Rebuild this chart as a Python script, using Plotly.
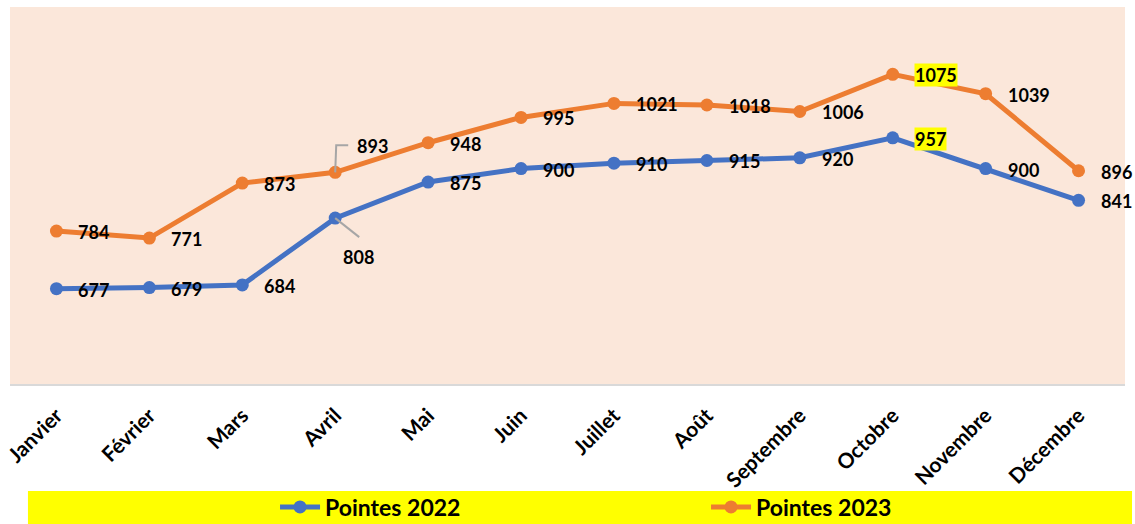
import plotly.graph_objects as go

months = ["Janvier", "Février", "Mars", "Avril", "Mai", "Juin", "Juillet",
          "Août", "Septembre", "Octobre", "Novembre", "Décembre"]
pointes_2022 = [677, 679, 684, 808, 875, 900, 910, 915, 920, 957, 900, 841]
pointes_2023 = [784, 771, 873, 893, 948, 995, 1021, 1018, 1006, 1075, 1039, 896]
highlight_month = "Octobre"
leader_month = "Avril"

BLUE = "#4472C4"
ORANGE = "#ED7D31"
PEACH = "#FBE7DA"
FONT = "Lato"

fig = go.Figure()
for name, vals, col in [("Pointes 2022", pointes_2022, BLUE),
                        ("Pointes 2023", pointes_2023, ORANGE)]:
    fig.add_trace(go.Scatter(
        x=months, y=vals, name=name, mode="lines+markers",
        line=dict(color=col, width=5),
        marker=dict(color=col, size=13),
    ))

annotations = []
shapes = []
for vals in (pointes_2022, pointes_2023):
    for i, (m, v) in enumerate(zip(months, vals)):
        a = dict(x=m, y=v, xref="x", yref="y", text=str(v), showarrow=False,
                 font=dict(family=FONT, size=18, color="black", weight="bold"),
                 xanchor="left", yanchor="middle", xshift=21, yshift=-1,
                 borderpad=0)
        if m == highlight_month:
            a["bgcolor"] = "#FFFF00"
        if m == leader_month and vals is pointes_2023:
            a["yshift"] = 26
            shapes.append(dict(type="path", xref="x", yref="y",
                               xsizemode="pixel", ysizemode="pixel",
                               xanchor=i, yanchor=v,
                               path="M0,0 L1,27 L13,27",
                               line=dict(color="#A6A6A6", width=2)))
        if m == leader_month and vals is pointes_2022:
            a["xanchor"] = "center"
            a["xshift"] = 23
            a["yshift"] = -39
            shapes.append(dict(type="path", xref="x", yref="y",
                               xsizemode="pixel", ysizemode="pixel",
                               xanchor=i, yanchor=v,
                               path="M0,0 L24,-19",
                               line=dict(color="#A6A6A6", width=2)))
        annotations.append(a)

# yellow legend band
shapes.insert(0, dict(type="rect", xref="paper", yref="paper",
                      x0=0.0161, x1=1.0063, y0=-0.2838, y1=-0.3714,
                      fillcolor="#FFFF00", line=dict(width=0), layer="below"))

fig.update_layout(
    width=1135, height=524,
    margin=dict(l=10, r=10, t=7, b=140, autoexpand=False),
    paper_bgcolor="white", plot_bgcolor=PEACH,
    annotations=annotations, shapes=shapes,
    showlegend=True,
    legend=dict(orientation="h", x=0.2377, xanchor="left",
                y=-0.3263, yanchor="middle",
                bgcolor="rgba(0,0,0,0)",
                font=dict(family=FONT, size=23, color="black", weight="bold"),
                entrywidth=376, entrywidthmode="pixels", itemwidth=40),
    xaxis=dict(type="category", range=[-0.5, 11.5], showgrid=False,
               showline=True, linecolor="#D9D9D9", linewidth=2,
               tickangle=-45, ticks="",
               tickfont=dict(family=FONT, size=21, color="black", weight="bold"),
               ticklabelstandoff=9, fixedrange=True),
    yaxis=dict(range=[500, 1200], visible=False, showgrid=False, fixedrange=True),
)

fig.write_html("out.html",
               config={"displayModeBar": False},
               post_script="document.body.style.margin='0';"
                           "document.body.style.overflow='hidden';")
